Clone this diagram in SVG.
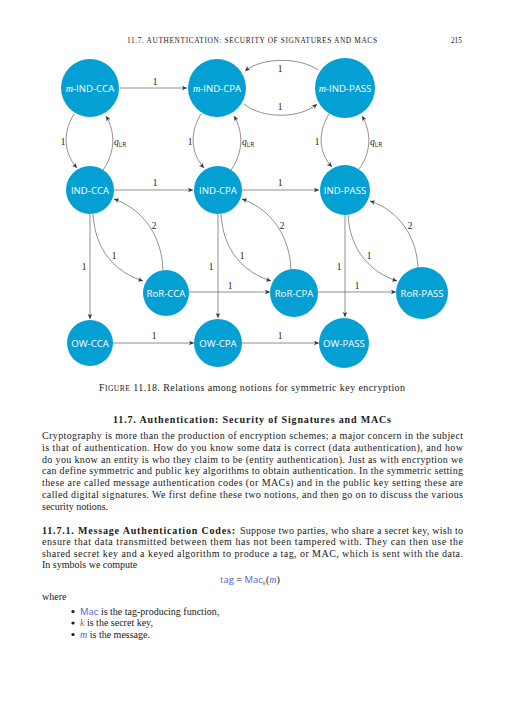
<svg xmlns="http://www.w3.org/2000/svg" width="505" height="720" viewBox="0 0 505 720">
<style>
.node{fill:#04a0d3}
.nl{font-family:"Open Sans","DejaVu Sans",sans-serif;font-size:9.6px;fill:#fff;text-anchor:middle}
.mi{font-family:"Liberation Serif",serif;font-style:italic}
.e{fill:none;stroke:#555;stroke-width:0.65}
.lb{font-family:"Liberation Serif",serif;font-size:9.5px;fill:#222;text-anchor:middle}
.q{font-family:"Liberation Serif",serif;font-size:9.5px;font-style:italic;fill:#222}
.sub{font-family:"Open Sans","DejaVu Sans",sans-serif;font-size:6.5px;font-style:normal}
.t{font-family:"Liberation Serif",serif;font-size:10px;fill:#1a1a1a}
.b{font-weight:bold}
.blue{fill:#5563d6}
.red{fill:#e0483c}
.sf{font-family:"Open Sans","DejaVu Sans",sans-serif;font-size:9.5px}
</style>
<defs>
<marker id="ah" markerUnits="userSpaceOnUse" markerWidth="6" markerHeight="5" refX="5" refY="2.25" orient="auto">
<path d="M0,0 L5,2.25 L0,4.5 L1.3,2.25 z" fill="#333"/>
</marker>
</defs>

<text class="t" x="127" y="42.5" textLength="250" lengthAdjust="spacing" style="font-size:7.4px">11.7. AUTHENTICATION: SECURITY OF SIGNATURES AND MACS</text>
<text class="t" x="462" y="42.5" text-anchor="end" style="font-size:7.4px">215</text>

<g id="connectors">
<path class="e" marker-end="url(#ah)" d="M120,88 L187,88"/>
<path class="e" marker-end="url(#ah)" d="M318,70 C300,57 262,57 245,71"/>
<path class="e" marker-end="url(#ah)" d="M244,104 C262,119 300,119 317,104"/>
<path class="e" marker-end="url(#ah)" d="M74,114 C63,132 63,152 77,168"/>
<path class="e" marker-end="url(#ah)" d="M103,170 C115,153 116,133 106,116"/>
<path class="e" marker-end="url(#ah)" d="M201,114 C190,132 190,152 204,168"/>
<path class="e" marker-end="url(#ah)" d="M231,170 C243,153 244,133 234,116"/>
<path class="e" marker-end="url(#ah)" d="M329,114 C318,132 318,152 332,167"/>
<path class="e" marker-end="url(#ah)" d="M359,169 C371,153 372,133 362,116"/>
<path class="e" marker-end="url(#ah)" d="M114,190 L193,190"/>
<path class="e" marker-end="url(#ah)" d="M242,190 L319,190"/>
<path class="e" marker-end="url(#ah)" d="M93,214 C95,250 115,272 143,281"/>
<path class="e" marker-end="url(#ah)" d="M163,270 C162,238 145,210 114,199"/>
<path class="e" marker-end="url(#ah)" d="M221,214 C223,250 243,272 271,281"/>
<path class="e" marker-end="url(#ah)" d="M291,270 C290,238 273,210 242,199"/>
<path class="e" marker-end="url(#ah)" d="M348,215 C350,250 370,272 397,281"/>
<path class="e" marker-end="url(#ah)" d="M418,268 C417,238 400,211 370,201"/>
<path class="e" marker-end="url(#ah)" d="M90,214 L90,319"/>
<path class="e" marker-end="url(#ah)" d="M218,214 L218,318"/>
<path class="e" marker-end="url(#ah)" d="M345,215 L345,317"/>
<path class="e" marker-end="url(#ah)" d="M189,292 L270,292"/>
<path class="e" marker-end="url(#ah)" d="M318,292 L396,292"/>
<path class="e" marker-end="url(#ah)" d="M113,343 L194,343"/>
<path class="e" marker-end="url(#ah)" d="M242,343 L319,343"/>
<text class="lb" x="155" y="85">1</text>
<text class="lb" x="280" y="72">1</text>
<text class="lb" x="280" y="110">1</text>
<text class="lb" x="63" y="145">1</text>
<text class="lb" x="190" y="145">1</text>
<text class="lb" x="317" y="145">1</text>
<text class="q" x="114" y="145">q<tspan class="sub" dy="2">LR</tspan></text>
<text class="q" x="242" y="145">q<tspan class="sub" dy="2">LR</tspan></text>
<text class="q" x="370" y="145">q<tspan class="sub" dy="2">LR</tspan></text>
<text class="lb" x="155" y="186">1</text>
<text class="lb" x="280" y="186">1</text>
<text class="lb" x="154" y="229">2</text>
<text class="lb" x="282" y="229">2</text>
<text class="lb" x="410" y="229">2</text>
<text class="lb" x="114" y="259">1</text>
<text class="lb" x="242" y="259">1</text>
<text class="lb" x="369" y="259">1</text>
<text class="lb" x="84" y="270">1</text>
<text class="lb" x="211" y="270">1</text>
<text class="lb" x="339" y="270">1</text>
<text class="lb" x="230" y="289">1</text>
<text class="lb" x="357" y="289">1</text>
<text class="lb" x="154" y="339">1</text>
<text class="lb" x="280" y="339">1</text>
</g>

<g id="m-IND-CCA"><circle class="node" cx="90" cy="88" r="29"/><text class="nl" x="90" y="91.5"><tspan class="mi" font-size="10">m</tspan>-IND-CCA</text></g>
<g id="m-IND-CPA"><circle class="node" cx="217" cy="88" r="29"/><text class="nl" x="217" y="91.5"><tspan class="mi" font-size="10">m</tspan>-IND-CPA</text></g>
<g id="m-IND-PASS"><circle class="node" cx="345" cy="88" r="30"/><text class="nl" x="345" y="91.5"><tspan class="mi" font-size="10">m</tspan>-IND-PASS</text></g>
<g id="IND-CCA"><circle class="node" cx="90" cy="190" r="24"/><text class="nl" x="90" y="193.5">IND-CCA</text></g>
<g id="IND-CPA"><circle class="node" cx="218" cy="190" r="24"/><text class="nl" x="218" y="193.5">IND-CPA</text></g>
<g id="IND-PASS"><circle class="node" cx="345" cy="190" r="25"/><text class="nl" x="345" y="193.5">IND-PASS</text></g>
<g id="RoR-CCA"><circle class="node" cx="166" cy="293" r="23"/><text class="nl" x="166" y="296.5">RoR-CCA</text></g>
<g id="RoR-CPA"><circle class="node" cx="294" cy="293" r="24"/><text class="nl" x="294" y="296.5">RoR-CPA</text></g>
<g id="RoR-PASS"><circle class="node" cx="422" cy="293" r="26"/><text class="nl" x="422" y="296.5">RoR-PASS</text></g>
<g id="OW-CCA"><circle class="node" cx="90" cy="343" r="23"/><text class="nl" x="90" y="346.5">OW-CCA</text></g>
<g id="OW-CPA"><circle class="node" cx="218" cy="343" r="24"/><text class="nl" x="218" y="346.5">OW-CPA</text></g>
<g id="OW-PASS"><circle class="node" cx="344" cy="343" r="25"/><text class="nl" x="344" y="346.5">OW-PASS</text></g>

<text class="t" x="99" y="391" textLength="306" lengthAdjust="spacing">F<tspan style="font-size:7.6px">IGURE</tspan> 11.18.  Relations among notions for symmetric key encryption</text>
<text class="t b" x="113" y="423" textLength="278" lengthAdjust="spacing">11.7.  Authentication: Security of Signatures and MACs</text>

<text class="t" x="42" y="439.3" textLength="421" lengthAdjust="spacing">Cryptography is more than the production of encryption schemes; a major concern in the subject</text>
<text class="t" x="42" y="451" textLength="421" lengthAdjust="spacing">is that of authentication. How do you know some data is correct (data authentication), and how</text>
<text class="t" x="42" y="462.7" textLength="421" lengthAdjust="spacing">do you know an entity is who they claim to be (entity authentication). Just as with encryption we</text>
<text class="t" x="42" y="474.4" textLength="421" lengthAdjust="spacing">can define symmetric and public key algorithms to obtain authentication. In the symmetric setting</text>
<text class="t" x="42" y="486.1" textLength="421" lengthAdjust="spacing">these are called message authentication codes (or MACs) and in the public key setting these are</text>
<text class="t" x="42" y="497.8" textLength="421" lengthAdjust="spacing">called digital signatures. We first define these two notions, and then go on to discuss the various</text>
<text class="t" x="42" y="509.5">security notions.</text>

<text class="t b" x="42" y="533.5" textLength="193" lengthAdjust="spacing">11.7.1.  Message Authentication Codes:</text>
<text class="t" x="240" y="533.5" textLength="223" lengthAdjust="spacing">Suppose two parties, who share a secret key, wish to</text>
<text class="t" x="42" y="545.1" textLength="421" lengthAdjust="spacing">ensure that data transmitted between them has not been tampered with. They can then use the</text>
<text class="t" x="42" y="556.7" textLength="421" lengthAdjust="spacing">shared secret key and a keyed algorithm to produce a tag, or MAC, which is sent with the data.</text>
<text class="t" x="42" y="568.3">In symbols we compute</text>

<text class="t" x="220" y="583"><tspan class="blue sf">tag</tspan> = <tspan class="blue sf">Mac</tspan><tspan class="red" font-style="italic" font-size="7" dy="2">k</tspan><tspan dy="-2">(</tspan><tspan class="blue" font-style="italic">m</tspan>)</text>

<text class="t" x="42" y="600">where</text>
<circle cx="73" cy="611.5" r="1.6" fill="#1a1a1a"/>
<circle cx="73" cy="623" r="1.6" fill="#1a1a1a"/>
<circle cx="73" cy="634.5" r="1.6" fill="#1a1a1a"/>
<text class="t" x="80" y="614.5"><tspan class="blue sf">Mac</tspan> is the tag-producing function,</text>
<text class="t" x="80" y="626"><tspan class="red" font-style="italic">k</tspan> is the secret key,</text>
<text class="t" x="80" y="637.5"><tspan class="blue" font-style="italic">m</tspan> is the message.</text>
</svg>
